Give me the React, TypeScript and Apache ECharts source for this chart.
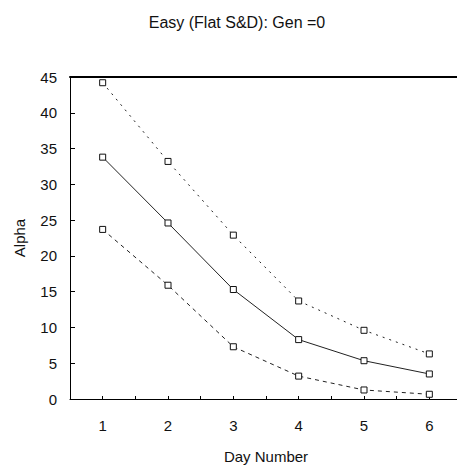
import React, { useEffect, useRef } from "react";
import * as echarts from "echarts";

const days = [1, 2, 3, 4, 5, 6];
const upperAlpha = [44.2, 33.2, 22.9, 13.7, 9.6, 6.3];
const meanAlpha = [33.8, 24.6, 15.3, 8.3, 5.35, 3.5];
const lowerAlpha = [23.7, 15.9, 7.3, 3.2, 1.26, 0.66];
const titleText = "Easy (Flat S&D): Gen =0";
const xName = "Day Number";
const yName = "Alpha";

const FONT = "'Liberation Sans', Arial, sans-serif";

export default function App() {
  const ref = useRef<HTMLDivElement>(null);
  useEffect(() => {
    document.body.style.margin = "0";
    const chart = echarts.init(ref.current!, undefined, { renderer: "svg" });
    const pts = (vals: number[]) => days.map((d, i) => [d, vals[i]]);
    const mk = (vals: number[], type: any, name: string) => ({
      name,
      type: "line",
      data: pts(vals),
      symbol: "rect",
      symbolSize: 6,
      itemStyle: { color: "#fff", borderColor: "#111", borderWidth: 1 },
      lineStyle: { color: "#222", width: 1, type },
      z: 3,
    });
    chart.setOption({
      animation: false,
      backgroundColor: "#fff",
      textStyle: { fontFamily: FONT },
      title: {
        text: titleText,
        left: 232,
        textAlign: "center",
        top: 9,
        textStyle: { fontFamily: FONT, fontSize: 16, fontWeight: "normal", color: "#111" },
      },
      grid: {
        left: 70,
        top: 77,
        right: -5,
        bottom: 70,
        containLabel: false,
        outerBoundsMode: "none",
      },
      xAxis: [
        {
          type: "value",
          min: 0.5,
          max: 6.5,
          interval: 0.5,
          name: xName,
          nameLocation: "middle",
          nameGap: 50,
          nameTextStyle: { fontFamily: FONT, fontSize: 15, color: "#111" },
          axisLine: { lineStyle: { color: "#000", width: 1 } },
          axisTick: { inside: true, length: 3, lineStyle: { color: "#000" } },
          axisLabel: {
            margin: 19,
            fontFamily: FONT,
            fontSize: 15,
            color: "#111",
            formatter: (v: number) => (Number.isInteger(v) && v >= 1 ? String(v) : ""),
          },
          splitLine: { show: false },
        },
        {
          type: "value",
          position: "top",
          min: 0.5,
          max: 6.5,
          axisLine: { show: true, onZero: false, lineStyle: { color: "#000", width: 2 } },
          axisTick: { show: false },
          axisLabel: { show: false },
          splitLine: { show: false },
        },
      ],
      yAxis: {
        type: "value",
        min: 0,
        max: 45,
        interval: 5,
        name: yName,
        nameLocation: "middle",
        nameGap: 43,
        nameTextStyle: { fontFamily: FONT, fontSize: 15, color: "#111" },
        axisLine: { show: true, lineStyle: { color: "#000", width: 1 } },
        axisTick: { show: true, inside: true, length: 5, lineStyle: { color: "#000" } },
        axisLabel: { margin: 13, fontFamily: FONT, fontSize: 15, color: "#111" },
        splitLine: { show: false },
      },
      series: [
        mk(upperAlpha, [2, 5], "upper"),
        mk(meanAlpha, "solid", "mean"),
        mk(lowerAlpha, [4, 4], "lower"),
      ],
    });
    return () => chart.dispose();
  }, []);
  return <div ref={ref} style={{ width: 457, height: 469 }} />;
}
